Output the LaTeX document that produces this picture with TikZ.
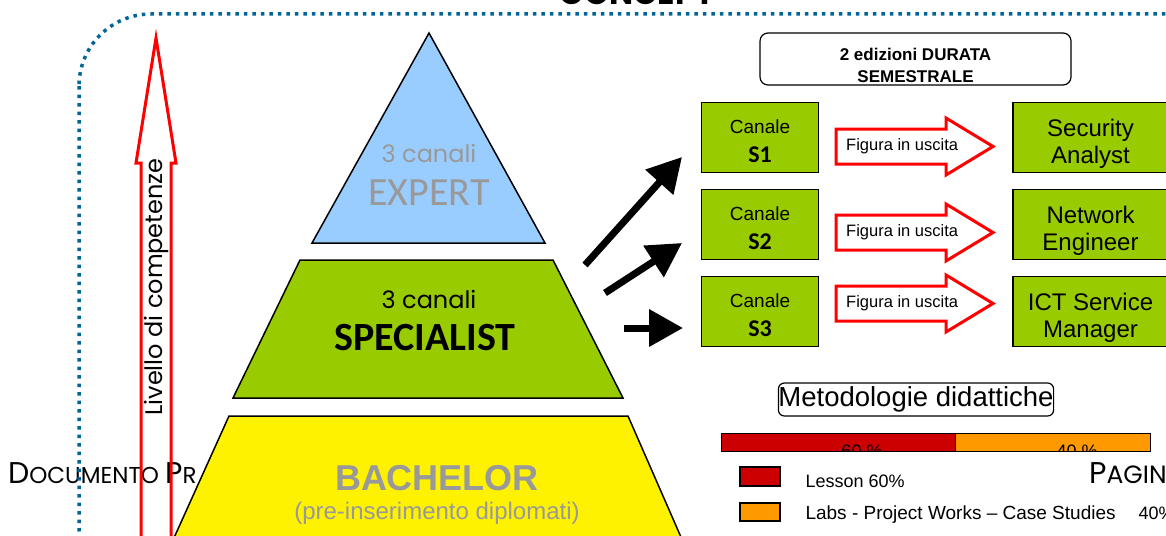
\documentclass[tikz,border=0pt]{standalone}
\usepackage{fontspec}
\setmainfont{Liberation Sans}
\newfontfamily\gothic{Poppins}
\newfontfamily\carl{Carlito}
\usetikzlibrary{arrows.meta}

\definecolor{bordo}{RGB}{0,102,153}
\definecolor{verde}{RGB}{153,204,0}
\definecolor{celeste}{RGB}{153,204,255}
\definecolor{rosso}{RGB}{204,0,0}
\definecolor{arancio}{RGB}{255,153,0}
\definecolor{grigio}{RGB}{153,153,153}

\tikzset{
  canale/.style={draw=black,line width=1.5pt,fill=verde,minimum width=117pt,minimum height=70pt,inner sep=0pt},
  figura/.style={draw=black,line width=1.5pt,fill=verde,minimum width=155pt,minimum height=70pt,inner sep=0pt},
  riga/.style={anchor=base,inner sep=0pt},
  uscita/.style={draw=red,line width=3pt,fill=white},
  freccia/.style={line width=7pt,-{Triangle[length=34pt,width=36pt]}},
  nota/.style={draw=black,line width=1.2pt,rounded corners=8pt,fill=white,inner sep=0pt},
  barra/.style={draw=black,line width=1.2pt,anchor=north west,minimum height=18pt,inner sep=0pt},
  legenda/.style={anchor=base west,font=\fontsize{18}{18}\selectfont},
}

\begin{document}
\begin{tikzpicture}[x=1pt,y=-1pt]
\useasboundingbox (0,0) rectangle (1166,535);
\clip (0,0) rectangle (1166,535);
%\draw[step=100,gray,very thin] (0,0) grid (1166,535); %background grid

% pie di pagina
\node[anchor=base west,inner sep=0pt] (doc) at (8,483) {\gothic\fontsize{30}{30}\selectfont D\fontsize{23}{23}\selectfont OCUMENTO \fontsize{30}{30}\selectfont P\fontsize{23}{23}\selectfont R};
\node[anchor=base west,inner sep=0pt] (pag) at (1089,483) {\gothic\fontsize{30}{30}\selectfont P\fontsize{25}{25}\selectfont AGINA};
\node[anchor=base] (titolo) at (637,5) {\gothic\bfseries\fontsize{32}{32}\selectfont CONCEPT};

\draw[bordo,line width=3.5pt,dash pattern=on 3.5pt off 5pt,rounded corners=72pt] (79,14) rectangle (1300,600);

\draw[red,line width=3pt] (141,560) -- (141,163) -- (136,163) -- (156,38) -- (176,163) -- (171,163) -- (171,560);
\node[rotate=90] (livello) at (156,287) {\gothic\fontsize{24}{24}\selectfont Livello di competenze};

% piramide
\draw[line width=1.5pt,fill=celeste] (429,33) -- (545,243) -- (312,243) -- cycle;
\node[anchor=base,text=grigio] (canexp) at (429,162) {\gothic\fontsize{24}{24}\selectfont 3 canali};
\node[anchor=base,text=grigio] (expert) at (429,205) {\carl\fontsize{40}{40}\selectfont EXPERT};

\draw[line width=1.5pt,fill=verde] (300,260) -- (553,260) -- (623,398) -- (233,398) -- cycle;
\node[anchor=base] (canspec) at (429,308) {\gothic\fontsize{24}{24}\selectfont 3 canali};
\node[anchor=base] (specialist) at (425,350) {\carl\bfseries\fontsize{40}{40}\selectfont SPECIALIST};

\draw[line width=1.5pt,fill=yellow] (229,416) -- (628,416) -- (691,560) -- (164,560) -- cycle;
\node[anchor=base,text=grigio] (bachelor) at (437,490) {\bfseries\fontsize{36}{36}\selectfont BACHELOR};
\node[anchor=base,text=grigio] (diplomati) at (437,519) {\fontsize{24}{24}\selectfont (pre-inserimento diplomati)};

% canali
\foreach \n/\yy in {1/137.5,2/224.5,3/311.5}{
  \node[canale] (s\n) at (760,\yy) {};
  \node[riga] (c\n) at (760,\yy-4.5) {\fontsize{19}{19}\selectfont Canale};
  \node[riga] (n\n) at (760,\yy+24.5) {\carl\bfseries\fontsize{24}{24}\selectfont S\n};
}

\coordinate (t1) at (585,265); \coordinate (p1) at (682,157);
\coordinate (t2) at (605,293); \coordinate (p2) at (682,243);
\coordinate (t3) at (624,328); \coordinate (p3) at (683,328);
\draw[freccia] (t1) -- (p1);
\draw[freccia] (t2) -- (p2);
\draw[freccia] (t3) -- (p3);

\foreach \yy/\nn in {146.5/u1,232.5/u2,303.5/u3}{
  \draw[uscita] (836,\yy-17.5) -- (946,\yy-17.5) -- (946,\yy-28.5) -- (993,\yy) -- (946,\yy+28.5) -- (946,\yy+17.5) -- (836,\yy+17.5) -- cycle;
  \node[anchor=west,inner sep=0pt] (\nn) at (846,\yy) {\fontsize{16.5}{16.5}\selectfont Figura in uscita};
}

% figure in uscita
\foreach \nn/\yy/\ra/\rb in {sec/137.5/Security/Analyst,net/224.5/Network/Engineer,ict/311.5/ICT Service/Manager}{
  \node[figura] (\nn) at (1090.5,\yy) {};
  \node[riga] (\nn a) at (1090.5,\yy-1) {\fontsize{24}{24}\selectfont \ra};
  \node[riga] (\nn b) at (1090.5,\yy+26) {\fontsize{24}{24}\selectfont \rb};
}

\node[nota,minimum width=311pt,minimum height=52pt] (durata) at (915.5,59) {};
\node[riga] (durata1) at (915.5,60) {\bfseries\fontsize{17}{17}\selectfont 2 edizioni DURATA};
\node[riga] (durata2) at (915.5,82) {\bfseries\fontsize{17}{17}\selectfont SEMESTRALE};

% metodologie
\node[nota,minimum width=274pt,minimum height=33pt,rounded corners=6pt] (metodo) at (916,399.5) {\fontsize{27.5}{27.5}\selectfont Metodologie didattiche};
\node[barra,fill=rosso,minimum width=234pt] (b60) at (721,433) {};
\node[barra,fill=arancio,minimum width=195pt] (b40) at (955,433) {};
\begin{scope}
\clip (721,433) rectangle (1150,451);
\node[anchor=base] (t60) at (862,457) {\fontsize{18}{18}\selectfont 60 \%};
\node[anchor=base] (t40) at (1077,457) {\fontsize{18}{18}\selectfont 40 \%};
\end{scope}

\draw[line width=1.2pt,fill=rosso] (740,467) rectangle (780,486);
\draw[line width=1.2pt,fill=arancio] (740,503) rectangle (780,521);
\node[legenda] (lesson) at (802,487) {Lesson 60\%};
\node[legenda,font=\fontsize{19}{19}\selectfont] (labs) at (802,519) {Labs - Project Works – Case Studies};
\node[legenda] (labs40) at (1135,519) {40\%};
\end{tikzpicture}
\end{document}
